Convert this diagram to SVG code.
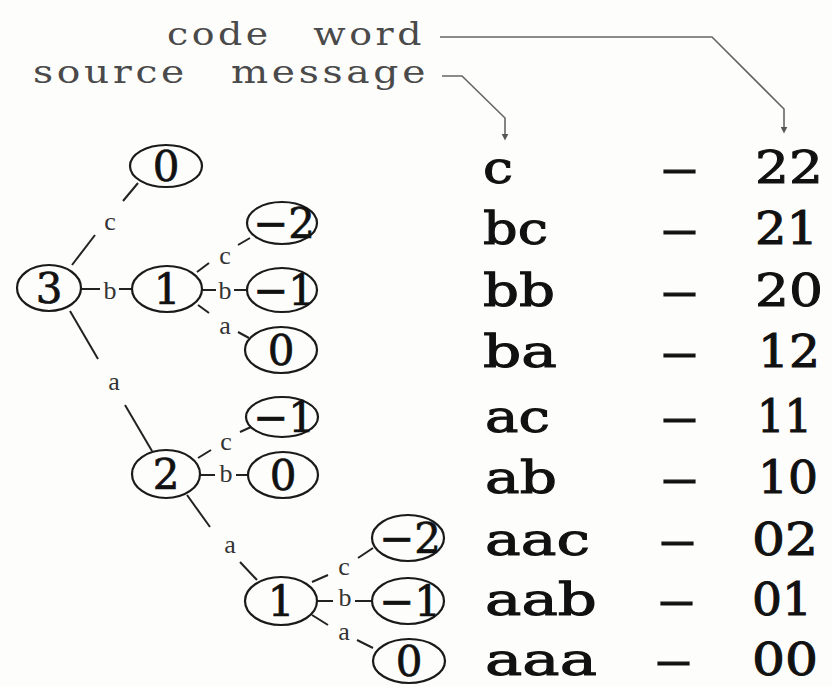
<svg xmlns="http://www.w3.org/2000/svg" width="832" height="686" viewBox="0 0 832 686">
  <defs>
    <marker id="tip" viewBox="0 0 10 10" refX="2" refY="5" markerWidth="7" markerHeight="7" markerUnits="userSpaceOnUse" orient="auto">
      <path d="M0,0 L10,5 L0,10 z" fill="#555"/>
    </marker>
    <style>
      .bg { fill: #fdfdfb; }
      .hdr { font-family: "DejaVu Serif", "Liberation Serif", serif; font-size: 32px; fill: #4a4a4a; letter-spacing: 3px; word-spacing: 22px; }
      .lead { fill: none; stroke: #666; stroke-width: 1.6; }
      .node ellipse { fill: none; stroke: #1a1a1a; stroke-width: 2.2; }
      .node text { font-family: "DejaVu Serif", "Liberation Serif", serif; font-size: 42px; fill: #111; stroke: #111; stroke-width: 0.7; text-anchor: middle; }
      .edge line { stroke: #222; stroke-width: 2; }
      .elab { font-family: "Liberation Serif", "Times New Roman", serif; font-size: 26px; fill: #333; text-anchor: middle; }
      .tbl { font-family: "DejaVu Serif", "Liberation Serif", serif; font-size: 44px; fill: #111; stroke: #111; stroke-width: 1; }
    </style>
  </defs>

  <rect class="bg" x="0" y="0" width="832" height="686"/>

  <!-- column headings with leader arrows -->
  <g id="headings">
    <text class="hdr" x="167" y="45" textLength="258" lengthAdjust="spacingAndGlyphs">code word</text>
    <text class="hdr" x="33" y="83" textLength="396" lengthAdjust="spacingAndGlyphs">source message</text>
  </g>
  <g id="leaders">
    <path class="lead" d="M440,37 H712 L784,109 V128" marker-end="url(#tip)"/>
    <path class="lead" d="M442,76 H462 L505,118 V135" marker-end="url(#tip)"/>
  </g>

  <!-- tree connectors, split around their branch letters -->
  <g id="connectors" class="edge">
    <line x1="72" y1="265" x2="95" y2="235"/><line x1="123" y1="201" x2="138" y2="183"/>
    <line x1="81" y1="289" x2="100" y2="289"/><line x1="119" y1="289" x2="132" y2="289"/>
    <line x1="70" y1="311" x2="98" y2="359"/><line x1="125" y1="405" x2="152" y2="451"/>
    <line x1="197" y1="272" x2="209" y2="263"/><line x1="238" y1="245" x2="250" y2="238"/>
    <line x1="202" y1="290" x2="216" y2="290"/><line x1="234" y1="290" x2="247" y2="290"/>
    <line x1="198" y1="305" x2="209" y2="313"/><line x1="238" y1="332" x2="249" y2="338"/>
    <line x1="198" y1="458" x2="211" y2="450"/><line x1="240" y1="432" x2="251" y2="427"/>
    <line x1="200" y1="475" x2="215" y2="475"/><line x1="236" y1="475" x2="248" y2="475"/>
    <line x1="187" y1="495" x2="210" y2="527"/><line x1="240" y1="562" x2="257" y2="580"/>
    <line x1="312" y1="582" x2="328" y2="575"/><line x1="358" y1="558" x2="373" y2="548"/>
    <line x1="317" y1="601" x2="333" y2="601"/><line x1="355" y1="601" x2="372" y2="601"/>
    <line x1="312" y1="615" x2="328" y2="625"/><line x1="357" y1="640" x2="373" y2="648"/>
  </g>

  <!-- branch letters -->
  <g id="branch-labels" class="elab">
    <text x="110" y="230">c</text>
    <text x="110" y="299">b</text>
    <text x="114" y="390">a</text>
    <text x="225" y="264">c</text>
    <text x="225" y="299">b</text>
    <text x="225" y="334">a</text>
    <text x="226" y="450">c</text>
    <text x="226" y="482">b</text>
    <text x="230" y="553">a</text>
    <text x="344" y="575">c</text>
    <text x="345" y="606">b</text>
    <text x="344" y="640">a</text>
  </g>

  <!-- tree nodes -->
  <g id="n-root" class="node"><ellipse cx="49" cy="288" rx="32" ry="23"/><text x="49" y="303">3</text></g>
  <g id="n-c" class="node"><ellipse cx="166" cy="166" rx="36" ry="21"/><text x="166" y="181">0</text></g>
  <g id="n-b" class="node"><ellipse cx="167" cy="289" rx="35" ry="23"/><text x="167" y="304">1</text></g>
  <g id="n-bc" class="node"><ellipse cx="282" cy="223" rx="35" ry="21"/><text x="284" y="238">−2</text></g>
  <g id="n-bb" class="node"><ellipse cx="282" cy="290" rx="35" ry="22"/><text x="284" y="305">−1</text></g>
  <g id="n-ba" class="node"><ellipse cx="281" cy="350" rx="36" ry="23"/><text x="281" y="365">0</text></g>
  <g id="n-a" class="node"><ellipse cx="166" cy="474" rx="34" ry="24"/><text x="166" y="489">2</text></g>
  <g id="n-ac" class="node"><ellipse cx="282" cy="417" rx="36" ry="20"/><text x="284" y="432">−1</text></g>
  <g id="n-ab" class="node"><ellipse cx="283" cy="475" rx="35" ry="23"/><text x="283" y="490">0</text></g>
  <g id="n-aa" class="node"><ellipse cx="281" cy="601" rx="36" ry="24"/><text x="281" y="616">1</text></g>
  <g id="n-aac" class="node"><ellipse cx="408" cy="538" rx="36" ry="23"/><text x="410" y="553">−2</text></g>
  <g id="n-aab" class="node"><ellipse cx="408" cy="601" rx="36" ry="23"/><text x="410" y="616">−1</text></g>
  <g id="n-aaa" class="node"><ellipse cx="409" cy="661" rx="36" ry="22"/><text x="409" y="676">0</text></g>

  <!-- message / code word table -->
  <g id="table" class="tbl">
    <text x="483" y="183" textLength="30" lengthAdjust="spacingAndGlyphs">c</text>
    <text x="483" y="244" textLength="65" lengthAdjust="spacingAndGlyphs">bc</text>
    <text x="483" y="306" textLength="72" lengthAdjust="spacingAndGlyphs">bb</text>
    <text x="483" y="367" textLength="74" lengthAdjust="spacingAndGlyphs">ba</text>
    <text x="485" y="432" textLength="65" lengthAdjust="spacingAndGlyphs">ac</text>
    <text x="485" y="493" textLength="72" lengthAdjust="spacingAndGlyphs">ab</text>
    <text x="485" y="555" textLength="105" lengthAdjust="spacingAndGlyphs">aac</text>
    <text x="485" y="615" textLength="112" lengthAdjust="spacingAndGlyphs">aab</text>
    <text x="485" y="675" textLength="112" lengthAdjust="spacingAndGlyphs">aaa</text>

    <text x="661" y="183" textLength="37" lengthAdjust="spacingAndGlyphs">–</text>
    <text x="661" y="244" textLength="37" lengthAdjust="spacingAndGlyphs">–</text>
    <text x="661" y="306" textLength="37" lengthAdjust="spacingAndGlyphs">–</text>
    <text x="661" y="367" textLength="37" lengthAdjust="spacingAndGlyphs">–</text>
    <text x="661" y="432" textLength="37" lengthAdjust="spacingAndGlyphs">–</text>
    <text x="661" y="493" textLength="37" lengthAdjust="spacingAndGlyphs">–</text>
    <text x="659" y="555" textLength="37" lengthAdjust="spacingAndGlyphs">–</text>
    <text x="658" y="615" textLength="37" lengthAdjust="spacingAndGlyphs">–</text>
    <text x="655" y="675" textLength="37" lengthAdjust="spacingAndGlyphs">–</text>

    <text x="755" y="183" textLength="68" lengthAdjust="spacingAndGlyphs">22</text>
    <text x="755" y="244" textLength="63" lengthAdjust="spacingAndGlyphs">21</text>
    <text x="755" y="306" textLength="68" lengthAdjust="spacingAndGlyphs">20</text>
    <text x="758" y="367" textLength="62" lengthAdjust="spacingAndGlyphs">12</text>
    <text x="757" y="432" textLength="55" lengthAdjust="spacingAndGlyphs">11</text>
    <text x="758" y="493" textLength="60" lengthAdjust="spacingAndGlyphs">10</text>
    <text x="752" y="555" textLength="66" lengthAdjust="spacingAndGlyphs">02</text>
    <text x="752" y="615" textLength="60" lengthAdjust="spacingAndGlyphs">01</text>
    <text x="752" y="675" textLength="66" lengthAdjust="spacingAndGlyphs">00</text>
  </g>
</svg>
